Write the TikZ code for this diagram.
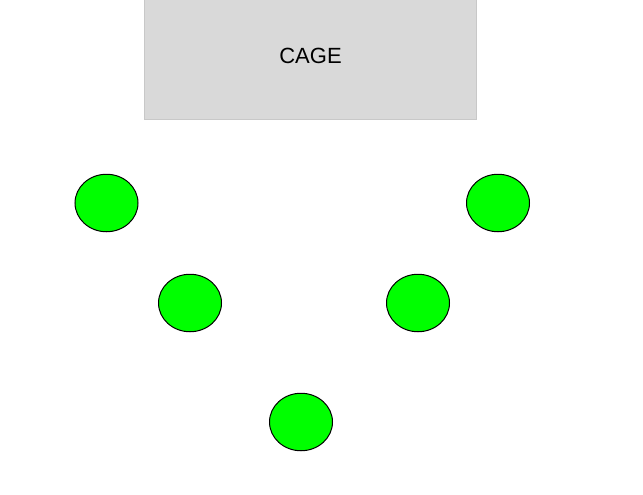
\documentclass[tikz,border=0pt]{standalone}
\usepackage{fontspec}
\setmainfont{Liberation Sans}
\usetikzlibrary{shapes.geometric}
\definecolor{cagefill}{HTML}{D9D9D9}
\definecolor{cageedge}{HTML}{C8C8C8}
\definecolor{ballgreen}{HTML}{00FF00}
\tikzset{
  cagebox/.style={draw=cageedge, fill=cagefill, line width=0.8pt, minimum width=332pt, minimum height=119.5pt, inner sep=0pt, text height=16pt, text depth=7.2pt, font=\fontsize{22}{26}\selectfont},
  ball/.style={ellipse, draw=black, fill=ballgreen, line width=1pt, minimum width=63pt, minimum height=57.5pt, inner sep=0pt}
}
\begin{document}
\begin{tikzpicture}[x=1pt,y=-1pt]
\useasboundingbox (0,0) rectangle (643,495);
\node[cagebox] (cage) at (310.5,59.6) {CAGE};
\node[ball] (b1) at (106.5,203) {};
\node[ball] (b2) at (498,203) {};
\node[ball] (b3) at (190,303) {};
\node[ball] (b4) at (418,303) {};
\node[ball] (b5) at (301,422) {};
\end{tikzpicture}
\end{document}
